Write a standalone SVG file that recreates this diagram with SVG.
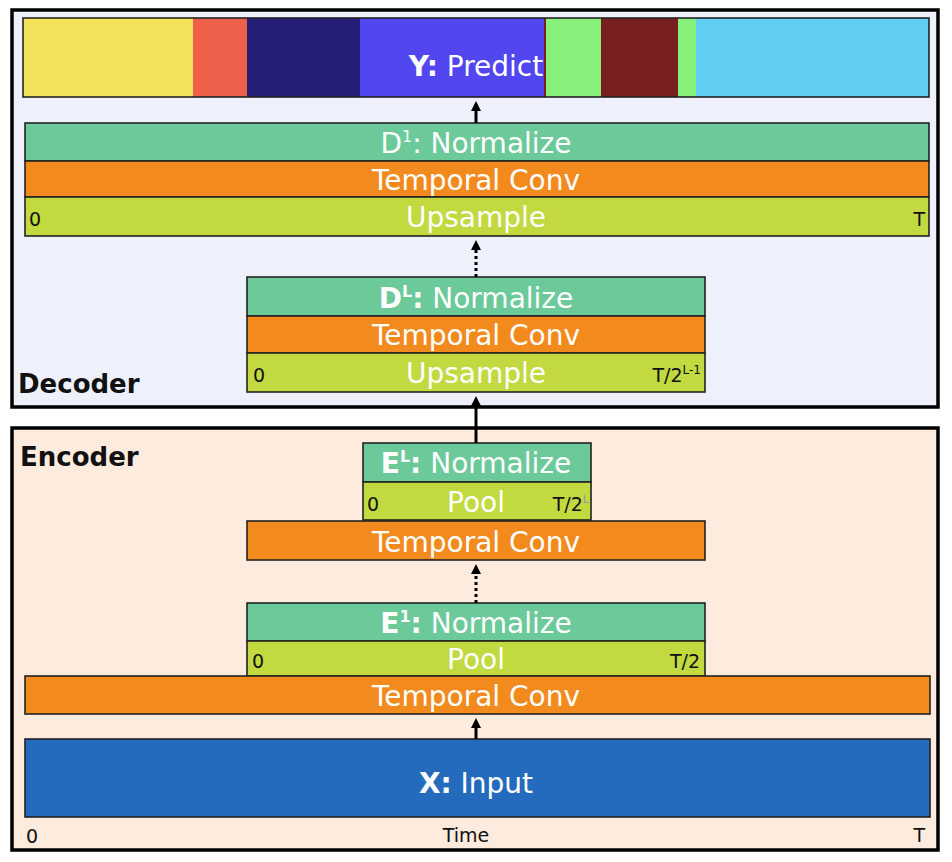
<svg xmlns="http://www.w3.org/2000/svg" width="952" height="862" viewBox="0 0 952 862">
<style>
.frame{stroke:#000;stroke-width:3.5}
.blk{stroke:#222;stroke-width:1.6}
.norm{fill:#6cc99a}
.conv{fill:#f28a1e}
.samp{fill:#c2d940}
.big{font-family:"DejaVu Sans",sans-serif;font-size:28px;fill:#fff;text-anchor:middle}
.sm{font-family:"DejaVu Sans",sans-serif;font-size:19px;fill:#111}
.hdr{font-family:"DejaVu Sans",sans-serif;font-size:26px;font-weight:bold;fill:#111}
.b{font-weight:bold}
.sup{font-size:16px}
.ln{stroke:#000;stroke-width:3;fill:none}
.dot{stroke:#000;stroke-width:3;fill:none;stroke-dasharray:3 3}
</style>
<defs>
<marker id="ah" markerWidth="10" markerHeight="10" refX="5" refY="5" orient="auto" markerUnits="userSpaceOnUse" viewBox="0 0 10 10">
<path d="M0,0 L10,5 L0,10 Z" fill="#000"/>
</marker>
</defs>
<rect width="952" height="862" fill="#fff"/>

<g id="decoder">
<rect class="frame" x="12" y="10" width="926" height="397" fill="#eef1fc"/>
<text class="hdr" x="18" y="393">Decoder</text>
</g>
<g id="encoder">
<rect class="frame" x="12" y="428" width="926" height="422" fill="#fdebde"/>
<text class="hdr" x="20" y="466" font-size="25">Encoder</text>
</g>

<g id="predict">
<rect x="23" y="18" width="170" height="79" fill="#f2e35a"/>
<rect x="193" y="18" width="54" height="79" fill="#ef604a"/>
<rect x="247" y="18" width="113" height="79" fill="#251f78"/>
<rect x="360" y="18" width="184" height="79" fill="#5146f0"/>
<rect x="544" y="18" width="2" height="79" fill="#782020"/>
<rect x="546" y="18" width="55" height="79" fill="#86f07a"/>
<rect x="601" y="18" width="77" height="79" fill="#782020"/>
<rect x="678" y="18" width="18" height="79" fill="#86f07a"/>
<rect x="696" y="18" width="233" height="79" fill="#62cdf2"/>
<rect class="blk" x="23" y="18" width="906" height="79" fill="none"/>
<text class="big" x="476" y="76" font-size="27"><tspan class="b">Y:</tspan> Predict</text>
</g>

<g id="d1">
<rect class="blk norm" x="25" y="123" width="904" height="38"/>
<rect class="blk conv" x="25" y="161" width="904" height="36"/>
<rect class="blk samp" x="25" y="197" width="904" height="39"/>
<text class="big" x="476" y="153">D<tspan class="sup" dy="-11">1</tspan><tspan dy="11">: Normalize</tspan></text>
<text class="big" x="476" y="190">Temporal Conv</text>
<text class="big" x="476" y="227">Upsample</text>
<text class="sm" x="29" y="226">0</text>
<text class="sm" x="925" y="226" text-anchor="end">T</text>
</g>

<g id="dL">
<rect class="blk norm" x="247" y="277" width="458" height="39"/>
<rect class="blk conv" x="247" y="316" width="458" height="37"/>
<rect class="blk samp" x="247" y="353" width="458" height="39"/>
<text class="big" x="476" y="308"><tspan class="b">D</tspan><tspan class="sup b" dy="-11">L</tspan><tspan class="b" dy="11">:</tspan> Normalize</text>
<text class="big" x="476" y="345">Temporal Conv</text>
<text class="big" x="476" y="383">Upsample</text>
<text class="sm" x="253" y="382">0</text>
<text class="sm" x="701" y="382" text-anchor="end">T/2<tspan dy="-8" font-size="12">L-1</tspan></text>
</g>

<g id="eL">
<rect class="blk norm" x="363" y="443" width="228" height="39"/>
<rect class="blk samp" x="363" y="482" width="228" height="38"/>
<text class="big" x="476" y="473"><tspan class="b">E</tspan><tspan class="sup b" dy="-11">L</tspan><tspan class="b" dy="11">:</tspan> Normalize</text>
<text class="big" x="476" y="512">Pool</text>
<text class="sm" x="367" y="511">0</text>
<text class="sm" x="589" y="511" text-anchor="end">T/2<tspan font-size="11" dy="-8" fill="#999">L</tspan></text>
</g>

<g id="convL">
<rect class="blk conv" x="247" y="521" width="458" height="39"/>
<text class="big" x="476" y="552">Temporal Conv</text>
</g>

<g id="e1">
<rect class="blk norm" x="247" y="603" width="458" height="38"/>
<rect class="blk samp" x="247" y="641" width="458" height="35"/>
<text class="big" x="476" y="633"><tspan class="b">E</tspan><tspan class="sup b" dy="-11">1</tspan><tspan class="b" dy="11">:</tspan> Normalize</text>
<text class="big" x="476" y="669">Pool</text>
<text class="sm" x="252" y="668">0</text>
<text class="sm" x="700" y="668" text-anchor="end">T/2</text>
</g>

<g id="conv1">
<rect class="blk conv" x="25" y="676" width="905" height="38"/>
<text class="big" x="476" y="706">Temporal Conv</text>
</g>

<g id="input">
<rect class="blk" x="25" y="739" width="905" height="78" fill="#256bbd"/>
<text class="big" x="476" y="793" font-size="26"><tspan class="b">X:</tspan> Input</text>
<text class="sm" x="26" y="843">0</text>
<text class="sm" x="466" y="842" text-anchor="middle" font-size="20">Time</text>
<text class="sm" x="925" y="842" text-anchor="end">T</text>
</g>

<g id="connectors">
<line class="ln" x1="476" y1="123" x2="476" y2="106" marker-end="url(#ah)"/>
<line class="dot" x1="476" y1="277" x2="476" y2="245" marker-end="url(#ah)"/>
<line class="ln" x1="476" y1="443" x2="476" y2="401" marker-end="url(#ah)"/>
<line class="dot" x1="476" y1="603" x2="476" y2="569" marker-end="url(#ah)"/>
<line class="ln" x1="476" y1="739" x2="476" y2="723" marker-end="url(#ah)"/>
</g>
</svg>
